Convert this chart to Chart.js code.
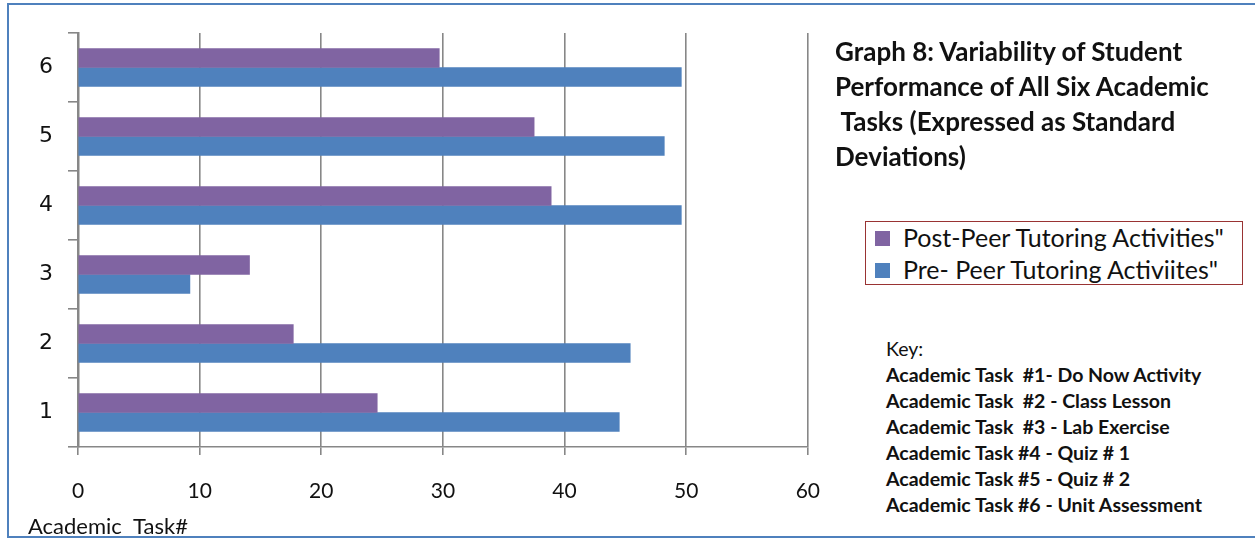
<!DOCTYPE html>
<html>
<head>
<meta charset="utf-8">
<script src="https://cdn.jsdelivr.net/npm/chart.js@4.4.1/dist/chart.umd.min.js"></script>
<style>
  html, body { margin: 0; padding: 0; background: #fff; }
  #page {
    position: relative; width: 1255px; height: 538px; overflow: hidden;
    background: #fff;
  }
  #frame {
    position: absolute; left: 7px; top: 3px; width: 1260px; height: 531px;
    border: 2px solid #4f81bd; box-sizing: content-box;
  }
  #wrap { position: absolute; left: 0; top: 0; width: 844px; height: 538px; }
  #title {
    position: absolute; left: 835px; top: 34px; width: 415px;
    font-family: Lato, "Open Sans", sans-serif; font-weight: bold;
    font-size: 26px; line-height: 35px; color: #111;
  }
  #legend {
    position: absolute; left: 865px; top: 221px; width: 378px; height: 64px;
    border: 1px solid #993333; box-sizing: border-box; padding: 0 0 0 9px;
    font-family: Lato, "Open Sans", sans-serif; font-size: 25px; color: #111;
  }
  #legend div { height: 32px; line-height: 31px; white-space: nowrap; }
  #legend span.sw {
    display: inline-block; width: 15px; height: 15px; margin-right: 13px;
    vertical-align: 1px;
  }
  #key {
    position: absolute; left: 886px; top: 336px;
    font-family: Lato, "Open Sans", sans-serif; font-weight: bold;
    font-size: 19.5px; line-height: 26px; color: #111; white-space: pre;
  }
  #key .hd { font-weight: normal; }
</style>
</head>
<body>
<div id="page">
  <div id="frame"></div>
  <div id="wrap"><canvas id="chart"></canvas></div>
  <div id="title">Graph 8: Variability of Student Performance of All Six Academic<br>&nbsp;Tasks (Expressed as Standard Deviations)</div>
  <div id="legend"></div>
  <div id="key"></div>
</div>
<script>
// task numbers, bottom to top
var tasks = ["1", "2", "3", "4", "5", "6"];
// standard deviations per task
var postTutoring = [24.6, 17.7, 14.1, 38.9, 37.5, 29.7];
var preTutoring = [44.5, 45.4, 9.2, 49.6, 48.2, 49.6];
var xTicks = [0, 10, 20, 30, 40, 50, 60];
var keyLines = [
  "Academic Task  #1- Do Now Activity",
  "Academic Task  #2 - Class Lesson",
  "Academic Task  #3 - Lab Exercise",
  "Academic Task #4 - Quiz # 1",
  "Academic Task #5 - Quiz # 2",
  "Academic Task #6 - Unit Assessment"
];

var gray = "#878787";

var chart = new Chart(document.getElementById("chart"), {
  type: "bar",
  data: {
    labels: tasks,
    datasets: [
      {
        label: 'Post-Peer Tutoring Activities"',
        data: postTutoring,
        backgroundColor: "#8064a2"
      },
      {
        label: 'Pre- Peer Tutoring Activiites"',
        data: preTutoring,
        backgroundColor: "#4f81bd"
      }
    ]
  },
  options: {
    indexAxis: "y",
    responsive: true,
    maintainAspectRatio: false,
    animation: false,
    barThickness: 19,
    layout: { padding: { left: 28, top: 33, right: 35, bottom: 0 } },
    plugins: {
      legend: { display: false },
      tooltip: { enabled: false },
      title: {
        display: true,
        position: "bottom",
        align: "start",
        text: "Academic  Task#",
        color: "#111",
        font: { family: "Lato", size: 22, weight: "normal", lineHeight: 1.0 },
        padding: { top: 0, bottom: 0 }
      }
    },
    scales: {
      x: {
        min: 0,
        max: 60,
        afterBuildTicks: function (s) {
          s.ticks = xTicks.map(function (v) { return { value: v }; });
        },
        afterFit: function (s) { s.height = 69; },
        grid: { color: gray, lineWidth: 1.6, tickLength: 8 },
        border: { color: gray, width: 1.6 },
        ticks: {
          padding: 24,
          color: "#111",
          font: { family: "'Liberation Sans Narrow', Lato", size: 21 }
        }
      },
      y: {
        reverse: true,
        afterFit: function (s) { s.width = 50; },
        grid: { drawOnChartArea: false, color: gray, lineWidth: 1.6, tickLength: 10 },
        border: { color: gray, width: 2.5 },
        ticks: {
          padding: 15,
          color: "#111",
          font: { family: "'DejaVu Sans'", size: 22 }
        }
      }
    }
  }
});

// legend built from the chart's own datasets
var legend = document.getElementById("legend");
chart.data.datasets.forEach(function (ds) {
  var row = document.createElement("div");
  var sw = document.createElement("span");
  sw.className = "sw";
  sw.style.background = ds.backgroundColor;
  row.appendChild(sw);
  row.appendChild(document.createTextNode(ds.label));
  legend.appendChild(row);
});

var key = document.getElementById("key");
var hd = document.createElement("div");
hd.className = "hd";
hd.textContent = "Key:";
key.appendChild(hd);
keyLines.forEach(function (t) {
  var d = document.createElement("div");
  d.textContent = t;
  key.appendChild(d);
});
</script>
</body>
</html>
